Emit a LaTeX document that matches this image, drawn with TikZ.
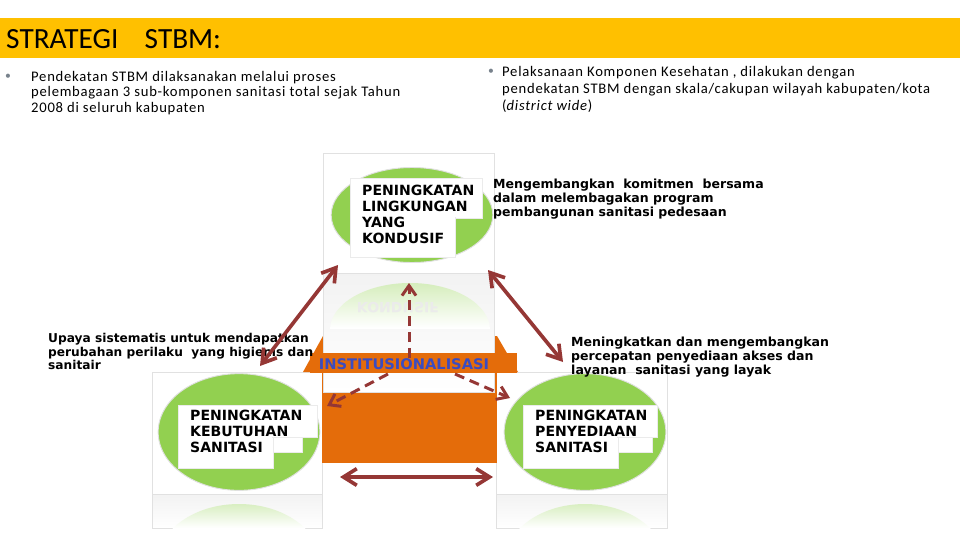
\documentclass[tikz,border=0pt]{standalone}
\usepackage{fontspec}
\setmainfont{Carlito}
\newfontfamily\spacedfont[LetterSpace=5]{Carlito}
\newfontfamily\arialfont{DejaVu Sans}
\usepackage{tikz}
\usetikzlibrary{shapes.geometric, arrows.meta, positioning, calc}
\definecolor{stbmyellow}{RGB}{255,192,0}
\definecolor{stbmgreen}{RGB}{146,208,80}
\definecolor{stbmorange}{RGB}{228,108,10}
\definecolor{stbmred}{RGB}{149,55,53}
\definecolor{stbmblue}{RGB}{59,76,192}
\definecolor{framegray}{RGB}{225,225,225}
\definecolor{bulletgray}{RGB}{120,130,140}
\tikzset{
  framebox/.style={draw=framegray, fill=white, line width=0.5pt},
  mirrorbox/.style={draw=framegray, top color=black!5, bottom color=white, line width=0.5pt},
  blob/.style={ellipse, draw=black!12, line width=0.8pt, fill=stbmgreen,
    minimum width=48.5mm, minimum height=35mm, inner sep=0pt},
  fade/.style={top color=stbmgreen!38!white, bottom color=white},
  tag/.style={fill=white, draw=black!8, line width=0.4pt},
  lbl/.style={font=\arialfont\bfseries\fontsize{12}{13.5}\selectfont, align=left,
    inner sep=0pt, anchor=north west},
  note/.style={font=\arialfont\bfseries\fontsize{10.7}{12}\selectfont, align=left,
    inner sep=0pt, anchor=north west},
  body/.style={font=\spacedfont\fontsize{12.5}{13.2}\selectfont, align=left, inner sep=0pt,
    anchor=north west},
  bulletdot/.style={font=\fontsize{10}{10}\selectfont, text=bulletgray, inner sep=0pt},
  link/.style={{Straight Barb[length=4mm,width=5mm]}-{Straight Barb[length=4mm,width=5mm]},
    line width=1.1mm, stbmred},
  dlink/.style={-{Straight Barb[length=3mm,width=4.2mm]}, line width=0.9mm, stbmred,
    dash pattern=on 3mm off 1.8mm}
}

\begin{document}
\begin{tikzpicture}[x=0.3mm, y=-0.3mm]
  \useasboundingbox[fill=white] (0,0) rectangle (960,540);
  % title bar
  \fill[stbmyellow] (0,18) rectangle (960,58);
  \node[anchor=west, inner sep=0pt, font=\fontsize{25}{25}\selectfont] (title) at (6,39)
    {STRATEGI\hspace{0.9em}STBM:};
  \node[bulletdot] (dotA) at (8,77) {•};
  \node[body] (textA) at (31,71) {Pendekatan STBM dilaksanakan melalui proses\\
    pelembagaan 3 sub-komponen sanitasi total sejak Tahun\\2008 di seluruh kabupaten};
  \node[bulletdot] (dotB) at (491,72) {•};
  \node[body, font=\spacedfont\fontsize{12.5}{14.5}\selectfont] (textB) at (502,66)
    {Pelaksanaan Komponen Kesehatan , dilakukan dengan\\
    pendekatan STBM dengan skala/cakupan wilayah kabupaten/kota\\(\textit{district wide})};

  % picture frames
  \draw[framebox] (323,153) rectangle (494,273);
  \draw[framebox] (152,372) rectangle (322,494);
  \draw[framebox] (496,372) rectangle (667,494);
  \draw[mirrorbox] (152,494) rectangle (322,528);
  \draw[mirrorbox] (496,494) rectangle (667,528);
  \begin{scope}
    \clip (239,562) ellipse (81 and 58);
    \shade[fade] (152,502) rectangle (322,528);
  \end{scope}
  \begin{scope}
    \clip (585,562) ellipse (80 and 58);
    \shade[fade] (496,502) rectangle (667,528);
  \end{scope}

  % house
  \fill[stbmorange] (303,372) -- (323,336) -- (497,336) -- (518,372) -- cycle;
  \fill[stbmorange] (322,372) rectangle (497,463);
  \draw[mirrorbox] (323,273) rectangle (494,392);
  \begin{scope}
    \clip (410,330) ellipse (80 and 47);
    \shade[fade] (323,283) rectangle (494,328);
  \end{scope}
  \node[lbl, anchor=center, text=black!8, yscale=-1, transform shape] (ghost) at (398,308)
    {KONDUSIF};
  \fill[stbmorange] (310,353) rectangle (517,373);
  \node[font=\arialfont\bfseries\fontsize{12.5}{13}\selectfont, text=stbmblue, inner sep=0pt]
    (inst) at (404,364) {INSTITUSIONALISASI};

  % components
  \node[blob, minimum height=28.5mm] (kondusif) at (412,215) {};
  \node[blob] (kebutuhan) at (239,432) {};
  \node[blob] (penyediaan) at (585,432) {};
  \draw[tag] (350,178) rectangle (482,218);
  \draw[tag] (350,216) rectangle (455,257);
  \draw[tag] (178,405) rectangle (317,437);
  \draw[tag] (178,437) rectangle (302,452);
  \draw[tag] (178,437) rectangle (273,468);
  \draw[tag] (523,405) rectangle (657,437);
  \draw[tag] (523,437) rectangle (652,452);
  \draw[tag] (523,437) rectangle (618,468);
  \fill[white] (351,179) rectangle (481,217);
  \fill[white] (351,217) rectangle (454,256);
  \fill[white] (179,406) rectangle (316,436);
  \fill[white] (179,436) rectangle (272,467);
  \fill[white] (524,406) rectangle (656,436);
  \fill[white] (524,436) rectangle (617,467);
  \node[lbl] (lblA) at (362,185) {PENINGKATAN\\LINGKUNGAN\\YANG\\KONDUSIF};
  \node[lbl] (lblB) at (190,410) {PENINGKATAN\\KEBUTUHAN\\SANITASI};
  \node[lbl] (lblC) at (535,410) {PENINGKATAN\\PENYEDIAAN\\SANITASI};

  \node[note] (noteA) at (493,179) {Mengembangkan\ \ komitmen\ \ bersama\\
    dalam melembagakan program\\pembangunan sanitasi pedesaan};
  \node[note, font=\arialfont\bfseries\fontsize{10.4}{11.6}\selectfont] (noteB) at (48,333)
    {Upaya sistematis untuk mendapatkan\\
    perubahan perilaku\ \ yang higienis dan\\sanitair};
  \node[note] (noteC) at (571,337) {Meningkatkan dan mengembangkan\\
    percepatan penyediaan akses dan\\layanan\ \ sanitasi yang layak};

  % connectors
  \coordinate (leftLow) at (260,366);
  \coordinate (leftHigh) at (338,265);
  \coordinate (rightHigh) at (488,270);
  \coordinate (rightLow) at (563,362);
  \coordinate (baseL) at (340,477);
  \coordinate (baseR) at (493,477);
  \coordinate (upTip) at (409,283);
  \coordinate (dlStart) at (388,374);
  \coordinate (dlTip) at (327,406);
  \coordinate (drStart) at (455,374);
  \coordinate (drTip) at (510,398);
  \draw[link] (leftLow) -- (leftHigh);
  \draw[link] (rightHigh) -- (rightLow);
  \draw[link] (baseL) -- (baseR);
  \draw[dlink] (inst.north -| upTip) -- (upTip);
  \draw[dlink] (dlStart) -- (dlTip);
  \draw[dlink] (drStart) -- (drTip);
\end{tikzpicture}
\end{document}
